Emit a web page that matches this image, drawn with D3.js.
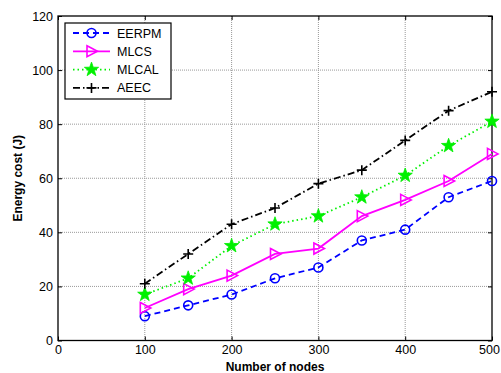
<!DOCTYPE html>
<html><head><meta charset="utf-8">
<script src="https://cdn.jsdelivr.net/npm/d3@7"></script>
<style>body{margin:0;background:#fff;} svg{display:block;font-family:Arial,"Liberation Sans",sans-serif;}</style>
</head><body><svg id="c" width="501" height="373"></svg>
<script>
const nodes = [100,150,200,250,300,350,400,450,500];
const EERPM = [9,13,17,23,27,37,41,53,59];
const MLCS  = [12,19,24,32,34,46,52,59,69];
const MLCAL = [17,23,35,43,46,53,61,72,81];
const AEEC  = [21,32,43,49,58,63,74,85,92];
const xTicks = [0,100,200,300,400,500];
const yTicks = [0,20,40,60,80,100,120];
const seriesNames = ["EERPM","MLCS","MLCAL","AEEC"];

const series = [
  {name:seriesNames[0], values:EERPM, color:"#0000ff", dash:"6,4", marker:"circle"},
  {name:seriesNames[1], values:MLCS, color:"#ff00ff", dash:null, marker:"tri"},
  {name:seriesNames[2], values:MLCAL, color:"#00f000", dash:"1.5,3", marker:"star"},
  {name:seriesNames[3], values:AEEC, color:"#000000", dash:"7,3,1.5,3", marker:"plus"}
];

const svg = d3.select("#c");
const L=58, R=492, T=16, B=340.5;
const x = d3.scaleLinear().domain([0,500]).range([L,R]);
const y = d3.scaleLinear().domain([0,120]).range([B,T]);

// grid
const g = svg.append("g");
g.selectAll(".gx").data(xTicks.slice(1,-1)).enter().append("line")
  .attr("x1",d=>x(d)).attr("x2",d=>x(d)).attr("y1",T).attr("y2",B)
  .attr("stroke","#999").attr("stroke-width",1).attr("stroke-dasharray","1,1");
g.selectAll(".gy").data(yTicks.slice(1,-1)).enter().append("line")
  .attr("y1",d=>y(d)).attr("y2",d=>y(d)).attr("x1",L).attr("x2",R)
  .attr("stroke","#999").attr("stroke-width",1).attr("stroke-dasharray","1,1");

// axes
const ax = svg.append("g").attr("transform",`translate(0,${B})`)
  .call(d3.axisBottom(x).tickValues(xTicks).tickSize(-4).tickPadding(5));
const ay = svg.append("g").attr("transform",`translate(${L},0)`)
  .call(d3.axisLeft(y).tickValues(yTicks).tickSize(-4).tickPadding(5));
const axT = svg.append("g").attr("transform",`translate(0,${T})`)
  .call(d3.axisTop(x).tickValues(xTicks).tickSize(-4).tickFormat(""));
const ayR = svg.append("g").attr("transform",`translate(${R},0)`)
  .call(d3.axisRight(y).tickValues(yTicks).tickSize(-4).tickFormat(""));
[ax,ay,axT,ayR].forEach(a=>{
  a.select(".domain").remove();
  a.selectAll("line").attr("stroke","#000");
  a.selectAll("text").attr("font-size",12.5).attr("fill","#000").attr("font-family","Arial,'Liberation Sans',sans-serif");
});
// keep the last x tick label inside the window
ax.selectAll(".tick text").filter(d=>d===500).attr("dx",-3);
svg.append("rect").attr("x",L).attr("y",T).attr("width",R-L).attr("height",B-T)
  .attr("fill","none").attr("stroke","#000").attr("stroke-width",1.3);

// labels
svg.append("text").attr("x",(L+R)/2).attr("y",371).attr("text-anchor","middle")
  .attr("font-size",12).attr("font-weight","bold").text("Number of nodes");
svg.append("text").attr("transform",`translate(22,${(T+B)/2}) rotate(-90)`).attr("text-anchor","middle")
  .attr("font-size",12).attr("font-weight","bold").text("Energy cost (J)");

function drawMarker(sel, type, color){
  if(type==="circle"){
    sel.append("circle").attr("r",4.5).attr("fill","none").attr("stroke",color).attr("stroke-width",1.6);
  } else if(type==="tri"){
    sel.append("path").attr("d","M-4.5,-5.5L6,0L-4.5,5.5Z").attr("fill","none").attr("stroke",color).attr("stroke-width",1.6);
  } else if(type==="star"){
    const pts=[];
    for(let i=0;i<10;i++){const r=i%2?3:7.5;const a=-Math.PI/2+i*Math.PI/5;pts.push([r*Math.cos(a),r*Math.sin(a)]);}
    sel.append("path").attr("d","M"+pts.map(p=>p.join(",")).join("L")+"Z").attr("fill",color).attr("stroke",color).attr("stroke-width",0.8);
  } else {
    sel.append("path").attr("d","M-5,0H5M0,-5V5").attr("stroke",color).attr("stroke-width",1.6);
  }
}

const line = d3.line().x((d,i)=>x(nodes[i])).y(d=>y(d));
series.forEach(s=>{
  svg.append("path").attr("d",line(s.values)).attr("fill","none").attr("stroke",s.color)
    .attr("stroke-width",1.8).attr("stroke-dasharray",s.dash);
  svg.append("g").selectAll("g").data(s.values).enter().append("g")
    .attr("transform",(d,i)=>`translate(${x(nodes[i])},${y(d)})`)
    .each(function(){drawMarker(d3.select(this),s.marker,s.color);});
});

// legend
const lg = svg.append("g");
lg.append("rect").attr("x",65).attr("y",23).attr("width",106).attr("height",76)
  .attr("fill","#fff").attr("stroke","#000").attr("stroke-width",1.2);
series.forEach((s,i)=>{
  const yy = 33 + i*18.3;
  lg.append("line").attr("x1",73).attr("x2",110).attr("y1",yy).attr("y2",yy)
    .attr("stroke",s.color).attr("stroke-width",1.8).attr("stroke-dasharray",s.dash);
  drawMarker(lg.append("g").attr("transform",`translate(91.5,${yy})`),s.marker,s.color);
  lg.append("text").attr("x",117).attr("y",yy+4.5).attr("font-size",12.5).text(s.name);
});
</script></body></html>
